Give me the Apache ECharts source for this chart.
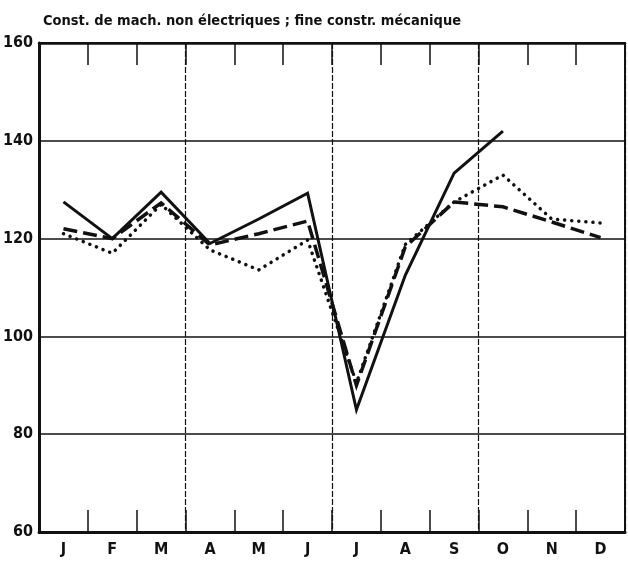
<!DOCTYPE html>
<html>
<head>
<meta charset="utf-8">
<script src="https://cdn.jsdelivr.net/npm/echarts@6/dist/echarts.min.js"></script>
<style>
  html, body { margin: 0; padding: 0; background: #fff; }
  #chart { width: 628px; height: 563px; }
</style>
</head>
<body>
<div id="chart"></div>
<script>
// mois et valeurs (indice)
const months = ['J', 'F', 'M', 'A', 'M', 'J', 'J', 'A', 'S', 'O', 'N', 'D']
const solidLine = [127.5, 120, 129.5, 119, 124, 129.3, 85, 112.5, 133.4, 142, null, null]
const dashedLine = [122, 120, 127.3, 118.7, 121, 123.6, 90, 118.3, 127.5, 126.5, 123.4, 120.2]
const dottedLine = [121, 117, 127, 117.7, 113.6, 119.7, 90.5, 118.8, 127.5, 133, 124, 123.2]
const yTicks = [60, 80, 100, 120, 140, 160]

const font = '"Liberation Sans Narrow", "DejaVu Sans Condensed", sans-serif'
const black = '#111'

const xBase = {
  type: 'category',
  data: months,
  boundaryGap: true,
  axisTick: { show: true, inside: true, length: 22, lineStyle: { color: black, width: 1.5 } },
  splitLine: {
    show: true,
    interval: (i) => i === 3 || i === 6 || i === 9,
    lineStyle: { color: black, width: 1.2, type: [6, 2] }
  }
}

const lineSeries = (data, type, width, cap) => ({
  type: 'line',
  data,
  symbol: 'none',
  silent: true,
  connectNulls: false,
  lineStyle: { color: black, width, type, cap: cap || 'butt', join: 'miter' }
})

const option = {
  animation: false,
  backgroundColor: '#fff',
  title: {
    text: 'Const. de mach. non électriques ; fine constr. mécanique',
    left: 38,
    top: 9,
    textStyle: { fontFamily: font, fontSize: 14.5, fontWeight: 'bold', color: black }
  },
  grid: {
    left: 38, right: 3, top: 43, bottom: 31,
    show: true, borderColor: black, borderWidth: 2
  },
  xAxis: [
    Object.assign({}, xBase, {
      position: 'bottom',
      axisLine: { show: true, lineStyle: { color: black, width: 3 } },
      axisLabel: { fontFamily: font, fontSize: 16, fontWeight: 'bold', color: black, margin: 10 }
    }),
    Object.assign({}, xBase, {
      position: 'top',
      splitLine: { show: false },
      axisLine: { show: true, lineStyle: { color: black, width: 2.5 } },
      axisLabel: { show: false }
    })
  ],
  yAxis: {
    type: 'value',
    min: yTicks[0],
    max: yTicks[yTicks.length - 1],
    interval: 20,
    axisLine: { show: true, lineStyle: { color: black, width: 3 } },
    axisTick: { show: false },
    axisLabel: { fontFamily: font, fontSize: 16, fontWeight: 'bold', color: black, margin: 6 },
    splitLine: { show: true, lineStyle: { color: black, width: 1.5 } }
  },
  series: [
    lineSeries(dottedLine, [0.1, 7], 3.5, 'round'),
    lineSeries(dashedLine, [14, 6], 3.5),
    lineSeries(solidLine, 'solid', 3)
  ]
}

const myChart = echarts.init(document.getElementById('chart'))
myChart.setOption(option)
</script>
</body>
</html>
